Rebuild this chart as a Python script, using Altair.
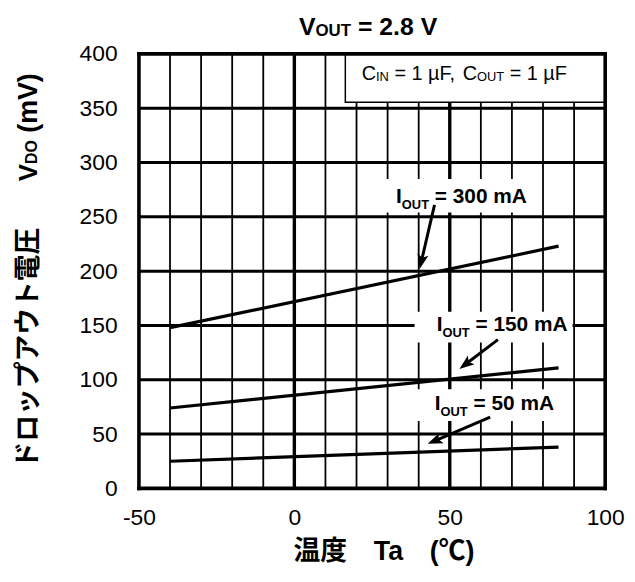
import math
import altair as alt
import pandas as pd

# ---------------- data ----------------
temperature = [-40, 85]
vdo_300mA = [148, 223]
vdo_150mA = [74, 111]
vdo_50mA = [25, 38]
series_names = ["300 mA", "150 mA", "50 mA"]

x_tick_values = [-50, 0, 50, 100]
y_tick_values = [0, 50, 100, 150, 200, 250, 300, 350, 400]
x_minor_values = [-40, -30, -20, -10, 10, 20, 30, 40, 60, 70, 80, 90]
y_inner_values = [50, 100, 150, 200, 250, 300, 350]

title_parts = ["V", "OUT", "= 2.8 V"]
y_title_parts = ["ドロップアウト電圧", "V", "DO", "(mV)"]
x_title_text = "温度\u3000Ta\u3000(℃)"
label_rest = ["= 300 mA", "= 150 mA", "= 50 mA"]
legend_parts = ["C", "IN", "= 1 µF,", "C", "OUT", "= 1 µF"]

# ---------------- layout ----------------
W, H = 470, 438
X_DOM = [-50, 100]
Y_DOM = [0, 400]
SX = W / (X_DOM[1] - X_DOM[0])
SY = H / (Y_DOM[1] - Y_DOM[0])
FONT = "Liberation Sans, Arial, Noto Sans CJK JP, sans-serif"

BOLD = {' ': 278, '=': 584, '.': 278, 'I': 278, 'O': 778, 'U': 722, 'T': 611,
        'V': 667, 'D': 722, 'm': 889, 'A': 722, '(': 333, ')': 333}
REG = {' ': 278, '=': 584, ',': 278, 'µ': 576, 'F': 611, 'C': 722, 'I': 278, 'N': 722,
       'O': 778, 'U': 722, 'T': 611}


def tw(t, size, bold=True):
    tab = BOLD if bold else REG
    w = 0
    for ch in t:
        if ch.isdigit():
            w += 556
        else:
            w += tab.get(ch, 600)
    return w / 1000 * size


def space(size):
    return 0.278 * size


MINUS = "\u2212"
xenc = alt.X("x:Q", scale=alt.Scale(domain=X_DOM, nice=False, zero=False),
             axis=alt.Axis(values=x_tick_values, title=None, grid=False, ticks=False, tickSize=0,
                           domain=False, labelFont=FONT, labelFontSize=23, labelColor="black",
                           labelPadding=18, labelFlush=False,
                           labelExpr=f"replace(datum.label, '{MINUS}', '-')"))
yenc = alt.Y("y:Q", scale=alt.Scale(domain=Y_DOM, nice=False, zero=False),
             axis=alt.Axis(values=y_tick_values, title=None, grid=False, ticks=False, tickSize=0,
                           domain=False, labelFont=FONT, labelFontSize=23, labelColor="black",
                           labelPadding=22, labelFlush=False))

layers = []

# grid
layers.append(alt.Chart(pd.DataFrame({"x": x_minor_values})).mark_rule(color="black", strokeWidth=1.8)
              .encode(x=xenc))
layers.append(alt.Chart(pd.DataFrame({"y": y_inner_values})).mark_rule(color="black", strokeWidth=3)
              .encode(y=yenc))
layers.append(alt.Chart(pd.DataFrame({"x": [0, 50]})).mark_rule(color="black", strokeWidth=3.4)
              .encode(x=xenc))

# white boxes behind labels
boxes = pd.DataFrame({"x": [28.2, 38.7, 38.7], "x2": [79.3, 89.5, 87.2],
                      "y": [254.0, 134.2, 62.1], "y2": [284.9, 162.6, 91.3]})
layers.append(alt.Chart(boxes).mark_rect(color="white")
              .encode(x=xenc, x2="x2:Q", y=yenc, y2="y2:Q"))

# data lines
rows = []
for name, vals in zip(series_names, [vdo_300mA, vdo_150mA, vdo_50mA]):
    for t, v in zip(temperature, vals):
        rows.append({"x": t, "y": v, "s": name})
layers.append(alt.Chart(pd.DataFrame(rows)).mark_line(color="black", strokeWidth=3.2)
              .encode(x=xenc, y=yenc, detail="s:N"))

# legend box
layers.append(alt.Chart(pd.DataFrame({"x": [16.4], "x2": [100], "y": [355.5], "y2": [400]}))
              .mark_rect(fill="white", stroke="black", strokeWidth=1.5)
              .encode(x=xenc, x2="x2:Q", y=yenc, y2="y2:Q"))

# border
layers.append(alt.Chart(pd.DataFrame({"x": [-50, 100]})).mark_rule(color="black", strokeWidth=3.6, strokeCap="square")
              .encode(x=xenc))
layers.append(alt.Chart(pd.DataFrame({"y": [0, 400]})).mark_rule(color="black", strokeWidth=3.6, strokeCap="square")
              .encode(y=yenc))

# arrows
arrows = [((45.1, 261), (40.3, 202)), ((65.5, 137), (53.1, 110)), ((63, 65.5), (42.9, 41))]
HEAD = "M0,0 L-0.75,2 L0,1.55 L0.75,2 Z"
for (tx, ty), (hx, hy) in arrows:
    dxp = (hx - tx) * SX
    dyp = -(hy - ty) * SY
    L = math.hypot(dxp, dyp)
    ang = math.degrees(math.atan2(dxp, -dyp)) % 360
    back = 9.0
    ex = hx - dxp / L * back / SX
    ey = hy + dyp / L * back / SY
    layers.append(alt.Chart(pd.DataFrame({"x": [tx], "y": [ty], "x2": [ex], "y2": [ey]}))
                  .mark_rule(color="black", strokeWidth=3)
                  .encode(x=xenc, y=yenc, x2="x2:Q", y2="y2:Q"))
    layers.append(alt.Chart(pd.DataFrame({"x": [hx], "y": [hy]}))
                  .mark_point(shape=HEAD, filled=True, size=225, angle=ang, color="black", opacity=1,
                              strokeWidth=0)
                  .encode(x=xenc, y=yenc))


def ptext(px, py, t, size, bold=True, align="left", angle=0):
    return (alt.Chart(pd.DataFrame({"a": [0]}))
            .mark_text(text=t, fontSize=size, fontWeight="bold" if bold else "normal", font=FONT,
                       align=align, baseline="alphabetic", angle=angle, color="black")
            .encode(x=alt.value(px), y=alt.value(py)))


# current labels: (subscript left x, baseline y) in plot pixels
label_anchors = [(265, 150), (306, 279.7), (304, 358.7)]
SUB_W = tw("OUT", 13)
for (ax, ay), rest in zip(label_anchors, label_rest):
    layers.append(ptext(ax, ay, "I", 21, align="right"))
    layers.append(ptext(ax, ay + 6, "OUT", 13))
    layers.append(ptext(ax + SUB_W + space(21), ay, rest, 21))

# legend text
lx, lb = 239.0, 26.3
layers.append(ptext(lx, lb, legend_parts[0], 20, bold=False, align="right"))
layers.append(ptext(lx, lb + 1, legend_parts[1], 13, bold=False))
lx += tw(legend_parts[1], 13, False) + space(20)
layers.append(ptext(lx, lb, legend_parts[2], 20, bold=False))
lx += tw(legend_parts[2], 20, False) + space(20) + tw(legend_parts[3], 20, False)
layers.append(ptext(lx, lb, legend_parts[3], 20, bold=False, align="right"))
layers.append(ptext(lx, lb + 1, legend_parts[4], 13, bold=False))
lx += tw(legend_parts[4], 13, False) + space(20)
layers.append(ptext(lx, lb, legend_parts[5], 20, bold=False))

# chart title
t_sizes = [25, 17, 25]
t_dys = [0, 1, 0]
t_gaps = [0, space(25), 0]
t_total = sum(tw(t, s) + g for t, s, g in zip(title_parts, t_sizes, t_gaps))
cx = 231 - t_total / 2
for t, s, dy, g in zip(title_parts, t_sizes, t_dys, t_gaps):
    layers.append(ptext(cx, -19 + dy, t, s))
    cx += tw(t, s) + g

# y title (rotated, reads bottom to top)
YB = -103
layers.append(ptext(YB, 418, y_title_parts[0], 27, angle=270))
layers.append(ptext(YB, 111, y_title_parts[1], 26, align="right", angle=270))
layers.append(ptext(YB, 111, y_title_parts[2], 16, angle=270))
layers.append(ptext(YB, 111 - tw("DO", 16) - space(27), y_title_parts[3], 27, angle=270))

# x title
layers.append(ptext(247, H + 72, x_title_text, 27, align="center"))

chart = (alt.layer(*layers)
         .properties(width=W, height=H, autosize=alt.AutoSizeParams(type="none"),
                     padding={"left": 132, "top": 44, "right": 22, "bottom": 80})
         .configure_view(stroke=None))

chart.save("out.html", embed_options={"renderer": "svg", "actions": False})
